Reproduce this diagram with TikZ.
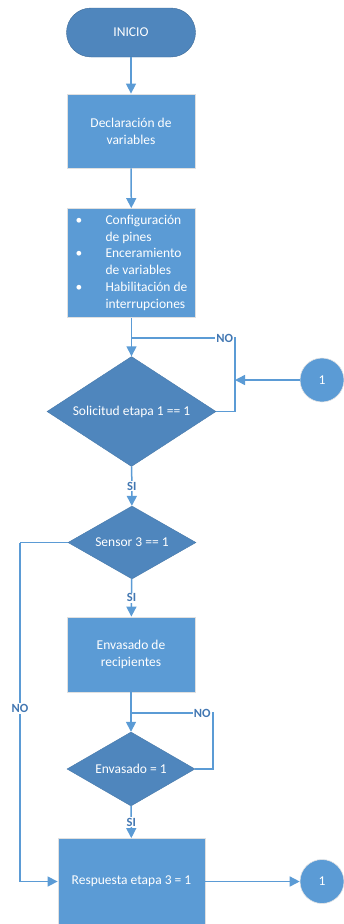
\documentclass[tikz,border=0pt]{standalone}
\usepackage{fontspec}
\setmainfont{Carlito}
\usepackage{xcolor}
\usepackage{tikz}
\usetikzlibrary{positioning,arrows.meta,calc,shapes.geometric}
\definecolor{mBoxBlue}{HTML}{5B9BD5}
\definecolor{mDarkBlue}{HTML}{4F86BD}
\definecolor{mLineBlue}{HTML}{5B9BD5}
\definecolor{mLabelBlue}{HTML}{4277B2}

\begin{document}
\begin{tikzpicture}[x=1pt, y=-1pt, font=\fontsize{13.5}{17}\selectfont,
  procbox/.style={rectangle, fill=mBoxBlue, draw=black!12, line width=0.8pt, text=white, align=center, inner sep=0pt},
  termbox/.style={rectangle, rounded corners=24.5pt, fill=mDarkBlue, draw=mDarkBlue!80!black, line width=0.4pt, text=white, minimum width=129pt, minimum height=49pt},
  decbox/.style={diamond, fill=mDarkBlue, draw=mDarkBlue!90!black, line width=0.4pt, text=white, inner sep=0pt},
  conn/.style={circle, fill=mBoxBlue, draw=black!10, line width=0.6pt, text=white, minimum size=44pt, inner sep=0pt},
  flow/.style={mLineBlue, line width=1.5pt, -{Triangle[length=10pt,width=10pt]}},
  plainflow/.style={mLineBlue, line width=1.5pt},
  tag/.style={fill=white, text=mLabelBlue, font=\fontsize{12.5}{13}\selectfont\bfseries, inner sep=1pt}]
\useasboundingbox (0,0) rectangle (344,924);

% nodes
\node[termbox] (inicio) at (131,32.5) {INICIO};
\node[procbox, minimum width=128pt, minimum height=74pt] (decl) at (131,131) {Declaración de\\variables};
\node[procbox, minimum width=128pt, minimum height=109pt] (config) at (131.5,263) {%
  \fontsize{13.5}{16.8}\selectfont
  \begin{tabular}{@{}p{30pt}@{}l@{}}
  \textbullet & Configuración\\ & de pines\\
  \textbullet & Enceramiento\\ & de variables\\
  \textbullet & Habilitación de\\ & interrupciones
  \end{tabular}};
\node[decbox, minimum width=169pt, minimum height=110pt, aspect=1.54] (solic) at (131.5,411.5) {Solicitud etapa 1 == 1};
\node[conn] (uno) at (322,380) {1};
\node[decbox, minimum width=128pt, minimum height=73pt, aspect=1.75] (sensor) at (132,542.5) {Sensor 3 == 1};
\node[procbox, minimum width=128pt, minimum height=75pt] (envasado) at (131,654.5) {Envasado de\\recipientes};
\node[decbox, minimum width=128pt, minimum height=74pt, aspect=1.73] (listo) at (131,769) {Envasado = 1};
\node[procbox, minimum width=147pt, minimum height=86pt] (resp) at (131.5,881.5) {Respuesta etapa 3 = 1};
\node[conn] (dos) at (322,881.5) {1};

% helper corners
\coordinate (lazo1) at (235,338);
\coordinate (lazo2) at (20,542.5);
\coordinate (lazo3) at (213,713);

% connectors
\draw[flow] (inicio) -- (decl);
\draw[flow] (decl) -- (config);
\draw[flow] (config) -- (solic);
\draw[plainflow] (solic.east) -| (lazo1) -- node[tag, pos=0.1]{NO} (config.south |- lazo1);
\draw[flow] (uno) -- (uno -| lazo1);
\draw[flow] (solic) -- node[tag]{SI} (sensor);
\draw[plainflow] (sensor.west) -- (lazo2);
\draw[flow] (lazo2) -- node[tag, pos=0.49]{NO} (lazo2 |- resp) -- (resp);
\draw[flow] (sensor) -- node[tag]{SI} (envasado);
\draw[flow] (envasado) -- (listo);
\draw[plainflow] (listo.east) -| (lazo3) -- node[tag, pos=0.13]{NO} (envasado.south |- lazo3);
\draw[flow] (listo) -- node[tag, pos=0.5]{SI} (resp);
\draw[flow] (resp) -- (dos);
\end{tikzpicture}
\end{document}
